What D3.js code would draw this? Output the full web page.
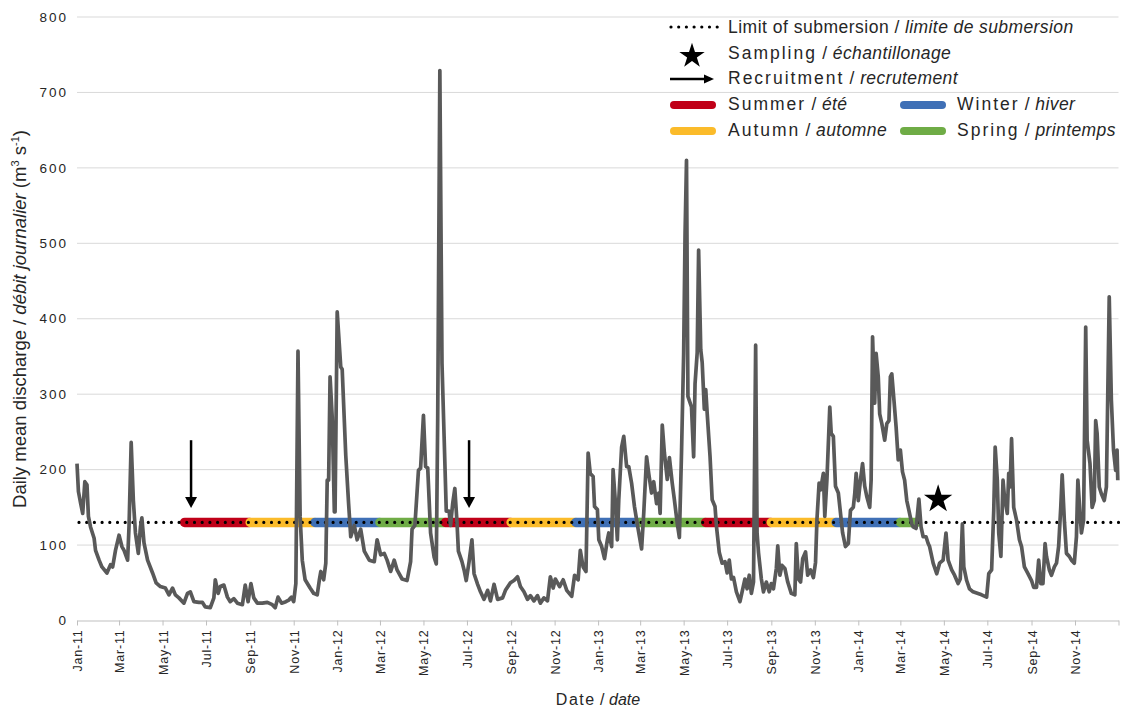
<!DOCTYPE html>
<html>
<head>
<meta charset="utf-8">
<script src="https://cdn.jsdelivr.net/npm/d3@7"></script>
<style>
  body { margin: 0; background: #fff; }
  text { font-family: "Liberation Sans", Arial, sans-serif; fill: #262626; }
</style>
</head>
<body>
<script>
// daily mean discharge
// day = days since 1 Jan 2011
var flowDays = [
  0, 2, 5, 8, 11, 14, 16, 19, 24, 26, 31, 35, 42, 47, 50, 54, 59, 63, 66, 71, 73, 76, 79, 82, 86, 89, 91, 94, 99,
  106, 111, 117, 124, 129, 134, 138, 143, 150, 155, 159, 164, 171, 176, 180, 187, 192, 194, 198, 201, 206, 211,
  215, 220, 225, 232, 236, 240, 244, 248, 253, 260, 267, 274, 278, 282, 287, 293, 297, 301, 304, 307, 310, 313,
  316, 320, 327, 332, 337, 340, 342, 346, 349, 351, 353, 355, 358, 361, 362,
  365, 370, 372, 377, 381, 384, 389, 393, 398, 403, 410, 417, 421, 426, 431, 435, 440, 445, 449, 456, 463, 468,
  470, 474, 479, 482, 486, 489, 492, 496, 501, 504, 506, 509, 512, 515, 518, 522, 524, 527, 530, 533, 535, 540,
  543, 546, 550, 554, 557, 562, 566, 571, 576, 580, 585, 590, 597, 601, 608, 613, 618, 622, 627, 632, 636, 641,
  646, 650, 655, 660, 664, 668, 671,
  677, 682, 687, 694, 698, 703, 706, 710, 714, 717, 720, 724, 726, 730, 732, 736, 740, 744, 746, 750, 752, 755,
  758, 760, 764, 767, 771, 774, 778, 782, 787, 792, 795, 799, 802, 806, 809, 813, 816, 818, 821, 824, 828, 831,
  835, 838, 842, 845, 848, 851, 853, 855, 857, 862, 865, 867, 870, 872, 875, 877, 880, 882, 884, 888, 891, 895,
  897, 901, 905, 909, 912, 915, 918, 921, 925, 930, 933, 937, 940, 943, 946, 949, 952, 954, 956, 960, 963, 967,
  971, 974, 977, 981, 983, 986, 989, 993, 997, 1002, 1007, 1009, 1012, 1015, 1018, 1022, 1025, 1029, 1033, 1036,
  1038, 1041, 1043, 1047, 1049, 1052, 1056, 1058, 1061, 1064, 1068,
  1074, 1078, 1082, 1085, 1089, 1091, 1093, 1096, 1099, 1102, 1105, 1108, 1112, 1114, 1116, 1119, 1121, 1124,
  1126, 1129, 1133, 1136, 1139, 1141, 1143, 1146, 1149, 1152, 1155, 1158, 1161, 1164, 1167, 1171, 1173, 1177,
  1179, 1181, 1184, 1187, 1191, 1194, 1196, 1201, 1206, 1210, 1215, 1219, 1222, 1227, 1231, 1236, 1239, 1242,
  1244, 1248, 1252, 1257, 1263, 1269, 1276, 1279, 1283, 1286, 1288, 1291, 1293, 1296, 1299, 1301, 1305, 1307,
  1309, 1311, 1314, 1318, 1322, 1325, 1329, 1334, 1339, 1342, 1346, 1349, 1352, 1355, 1358, 1360, 1364, 1367,
  1371, 1374, 1377, 1380, 1382, 1385, 1388, 1392, 1395, 1399, 1402, 1404, 1407, 1409, 1412, 1415, 1417, 1421,
  1424, 1427, 1429, 1431, 1434, 1437, 1441, 1444, 1448, 1451, 1454, 1457, 1459, 1460
];
var flowValues = [
  208, 171, 156, 142, 184, 180, 138, 124, 109, 93, 80, 71, 63, 74, 71, 93, 113, 98, 93, 80, 125, 236, 160, 116, 89, 124, 136, 103, 80,
  63, 50, 45, 43, 34, 43, 34, 30, 23, 36, 38, 25, 24, 24, 18, 17, 30, 54, 36, 45, 47, 31,
  25, 29, 23, 21, 47, 25, 49, 30, 23, 23, 24, 21, 17, 31, 23, 25, 27, 31, 25, 49, 357, 138,
  80, 54, 43, 36, 34, 54, 65, 54, 76, 186, 186, 323, 270, 144, 144,
  409, 336, 333, 219, 155, 111, 126, 107, 121, 92, 80, 78, 107, 87, 89, 80, 65, 80, 67, 55, 53, 78,
  121, 126, 199, 202, 272, 204, 202, 116, 84, 75, 268, 729, 341, 243, 145, 145, 126, 155, 175, 131, 92, 78,
  67, 53, 78, 107, 62, 48, 38, 28, 40, 26, 48, 28, 30, 40, 50, 53, 58, 45, 38, 28, 33, 26,
  33, 23, 30, 26, 58, 43, 55,
  45, 54, 40, 32, 60, 54, 93, 71, 65, 222, 195, 191, 151, 147, 107, 98, 82, 107, 116, 98, 200, 160,
  107, 160, 230, 244, 204, 204, 182, 151, 122, 95, 142, 217, 195, 169, 184, 155, 169, 142, 259, 222, 187, 216,
  182, 160, 129, 110, 222, 354, 513, 610, 297, 283, 217, 314, 355, 491, 359, 342, 280, 306, 275, 218, 160, 151,
  125, 90, 76, 78, 63, 80, 55, 57, 38, 25, 38, 55, 42, 60, 36, 51, 365, 116, 90, 55, 38, 51,
  38, 49, 42, 69, 99, 60, 73, 69, 51, 36, 34, 102, 55, 51, 82, 91, 60, 67, 57, 77,
  134, 182, 173, 195, 138, 187, 283, 248, 244, 178, 169,
  116, 98, 102, 146, 150, 168, 195, 159, 186, 208, 178, 164, 150, 186, 376, 288, 354, 323,
  274, 261, 239, 261, 265, 323, 327, 292, 257, 213, 226, 197, 186, 159, 146, 128, 124, 122,
  141, 161, 124, 111, 111, 102, 98, 76, 62, 76, 80, 116, 80, 67, 60, 49, 55, 128,
  71, 53, 42, 38, 36, 34, 31, 62, 67, 146, 230, 186, 116, 85, 186, 164, 142, 195,
  177, 241, 150, 133, 107, 98, 71, 62, 53, 44, 44, 80, 49, 49, 102, 85, 67, 60,
  71, 76, 98, 150, 193, 133, 89, 85, 80, 76, 111, 186, 142, 116, 133, 389, 239, 208,
  150, 159, 265, 248, 177, 168, 159, 177, 429, 292, 226, 199, 226, 186
];

var submersionLimit = 130;

var seasonNames = ["summer", "autumn", "winter", "spring", "summer", "autumn", "winter", "spring",
                   "summer", "autumn", "winter", "spring"];
var seasonStarts = ["2011-06-01", "2011-09-01", "2011-12-01", "2012-03-01", "2012-06-01", "2012-09-01",
                    "2012-12-01", "2013-03-01", "2013-06-01", "2013-09-01", "2013-12-01", "2014-03-01"];
var seasonEnds   = ["2011-08-31", "2011-11-30", "2012-02-29", "2012-05-31", "2012-08-31", "2012-11-30",
                    "2013-02-28", "2013-05-31", "2013-08-31", "2013-11-30", "2014-02-28", "2014-03-24"];
var seasonColors = {summer: "#c00018", autumn: "#fbbb2a", winter: "#3f70b6", spring: "#6fac46"};

var recruitmentDates = ["2011-06-10", "2012-07-04"];
var samplingDate = "2014-04-23";
var samplingValue = 162;

var yTicks = [0, 100, 200, 300, 400, 500, 600, 700, 800];

var width = 1122, height = 711;
var parse = d3.utcParse("%Y-%m-%d");
var start = Date.UTC(2011, 0, 1);

var x = d3.scaleUtc()
    .domain([new Date(start), new Date(Date.UTC(2015, 0, 1))])
    .range([77, 1118.5]);
var y = d3.scaleLinear().domain([0, 800]).range([620.5, 17]);

var svg = d3.select("body").append("svg")
    .attr("width", width)
    .attr("height", height);

svg.append("rect").attr("width", width).attr("height", height).attr("fill", "#fff");

// gridlines
svg.selectAll("line.grid")
    .data(yTicks.slice(1))
    .enter().append("line")
    .attr("class", "grid")
    .attr("x1", x.range()[0]).attr("x2", x.range()[1])
    .attr("y1", function(d) { return y(d); })
    .attr("y2", function(d) { return y(d); })
    .attr("stroke", "#d9d9d9")
    .attr("stroke-width", 1);

// y labels
svg.selectAll("text.ylab")
    .data(yTicks)
    .enter().append("text")
    .attr("class", "ylab")
    .attr("x", 68)
    .attr("y", function(d) { return y(d); })
    .attr("dy", "0.35em")
    .attr("text-anchor", "end")
    .style("font-size", "13.5px")
    .style("letter-spacing", "2px")
    .text(function(d) { return d; });

// x axis
var tickDates = d3.utcMonth.every(2).range(x.domain()[0], new Date(Date.UTC(2015, 0, 2)));
var fmt = d3.utcFormat("%b-%y");
var xAxis = d3.axisBottom(x)
    .tickValues(tickDates)
    .tickSize(5)
    .tickSizeOuter(0)
    .tickFormat(function(d) { return d.getUTCFullYear() == 2015 ? "" : fmt(d); });

var gx = svg.append("g")
    .attr("transform", "translate(0," + y(0) + ")")
    .call(xAxis);
gx.select(".domain").attr("stroke", "#bfbfbf");
gx.selectAll(".tick line").attr("stroke", "#bfbfbf");
gx.selectAll(".tick text")
    .attr("transform", "rotate(-90)")
    .attr("text-anchor", "end")
    .attr("x", -9)
    .attr("y", 0)
    .attr("dy", "0.36em")
    .style("font-family", "'Liberation Sans', Arial, sans-serif")
    .style("font-size", "12.5px")
    .style("letter-spacing", "0.8px")
    .attr("fill", "#262626");

// season bars
seasonStarts.forEach(function(s, i) {
    svg.append("line")
        .attr("x1", x(parse(s))).attr("x2", x(parse(seasonEnds[i])))
        .attr("y1", y(submersionLimit)).attr("y2", y(submersionLimit))
        .attr("stroke", seasonColors[seasonNames[i]])
        .attr("stroke-width", 9.5)
        .attr("stroke-linecap", "round");
});

// limit of submersion
svg.append("line")
    .attr("x1", x.range()[0] + 2).attr("x2", x.range()[1])
    .attr("y1", y(submersionLimit)).attr("y2", y(submersionLimit))
    .attr("stroke", "#000")
    .attr("stroke-width", 3.2)
    .attr("stroke-linecap", "round")
    .attr("stroke-dasharray", "0 7.7");

// discharge
var flow = flowDays.map(function(d, i) {
    return {date: d3.utcDay.offset(new Date(start), d), value: flowValues[i]};
});
var line = d3.line()
    .x(function(d) { return x(d.date); })
    .y(function(d) { return y(d.value); });

svg.append("path")
    .datum(flow)
    .attr("d", line)
    .attr("fill", "none")
    .attr("stroke", "#595959")
    .attr("stroke-width", 3.7)
    .attr("stroke-linejoin", "round");

// recruitment arrows
recruitmentDates.forEach(function(d) {
    var ax = x(parse(d));
    svg.append("line")
        .attr("x1", ax).attr("x2", ax)
        .attr("y1", y(239)).attr("y2", y(149) - 8)
        .attr("stroke", "#000").attr("stroke-width", 2.5);
    svg.append("path")
        .attr("d", "M" + (ax - 6) + "," + (y(149) - 11) + "L" + (ax + 6) + "," + (y(149) - 11) +
                   "L" + ax + "," + y(149) + "Z")
        .attr("fill", "#000");
});

// sampling star
var star = d3.symbol().type(d3.symbolStar);
svg.append("path")
    .attr("d", star.size(250)())
    .attr("transform", "translate(" + x(parse(samplingDate)) + "," + (y(samplingValue) + 1) + ")")
    .attr("fill", "#000");

// legend
var lg = svg.append("g");
function legendText(xp, yp, plain, italic, spacing) {
    var t = lg.append("text")
        .attr("x", xp).attr("y", yp).attr("dy", "0.35em")
        .style("font-size", "17.5px")
        .style("letter-spacing", "0.4px");
    t.append("tspan").style("letter-spacing", spacing + "px").text(plain);
    t.append("tspan").text(" / ");
    t.append("tspan").style("font-style", "italic").text(italic);
}

lg.append("line")
    .attr("x1", 671).attr("x2", 718).attr("y1", 27).attr("y2", 27)
    .attr("stroke", "#000").attr("stroke-width", 3.2)
    .attr("stroke-linecap", "round").attr("stroke-dasharray", "0 7.7");
legendText(728, 27, "Limit of submersion", "limite de submersion", 0.5);

lg.append("path")
    .attr("d", star.size(200)())
    .attr("transform", "translate(692,56)")
    .attr("fill", "#000");
legendText(728, 53, "Sampling", "échantillonage", 2);

lg.append("line")
    .attr("x1", 670).attr("x2", 706).attr("y1", 79).attr("y2", 79)
    .attr("stroke", "#000").attr("stroke-width", 2.5);
lg.append("path").attr("d", "M704,74.5L714,79L704,83.5Z").attr("fill", "#000");
legendText(728, 78, "Recruitment", "recrutement", 2);

var legendSeasons = [
    {key: "summer", en: "Summer", fr: "été", lx: 674, ly: 105},
    {key: "winter", en: "Winter", fr: "hiver", lx: 904, ly: 105},
    {key: "autumn", en: "Autumn", fr: "automne", lx: 674, ly: 131},
    {key: "spring", en: "Spring", fr: "printemps", lx: 904, ly: 131}
];
legendSeasons.forEach(function(s) {
    lg.append("line")
        .attr("x1", s.lx).attr("x2", s.lx + 38).attr("y1", s.ly).attr("y2", s.ly)
        .attr("stroke", seasonColors[s.key]).attr("stroke-width", 8)
        .attr("stroke-linecap", "round");
    legendText(s.lx + (s.key == "summer" || s.key == "autumn" ? 54 : 53), s.ly - 1, s.en, s.fr, 2);
});

// axis titles
var yt = svg.append("text")
    .attr("transform", "translate(26,319) rotate(-90)")
    .attr("text-anchor", "middle")
    .style("font-size", "18.5px");
yt.append("tspan").text("Daily mean discharge / ");
yt.append("tspan").style("font-style", "italic").text("débit journalier");
yt.append("tspan").text(" (m");
yt.append("tspan").attr("dy", -7).style("font-size", "11px").text("3");
yt.append("tspan").attr("dy", 7).text(" s");
yt.append("tspan").attr("dy", -7).style("font-size", "11px").text("-1");
yt.append("tspan").attr("dy", 7).text(")");

var xt = svg.append("text")
    .attr("x", 598).attr("y", 705)
    .attr("text-anchor", "middle")
    .style("font-size", "16px");
xt.append("tspan").style("letter-spacing", "1.5px").text("Date");
xt.append("tspan").text(" / ");
xt.append("tspan").style("font-style", "italic").text("date");
</script>
</body>
</html>
